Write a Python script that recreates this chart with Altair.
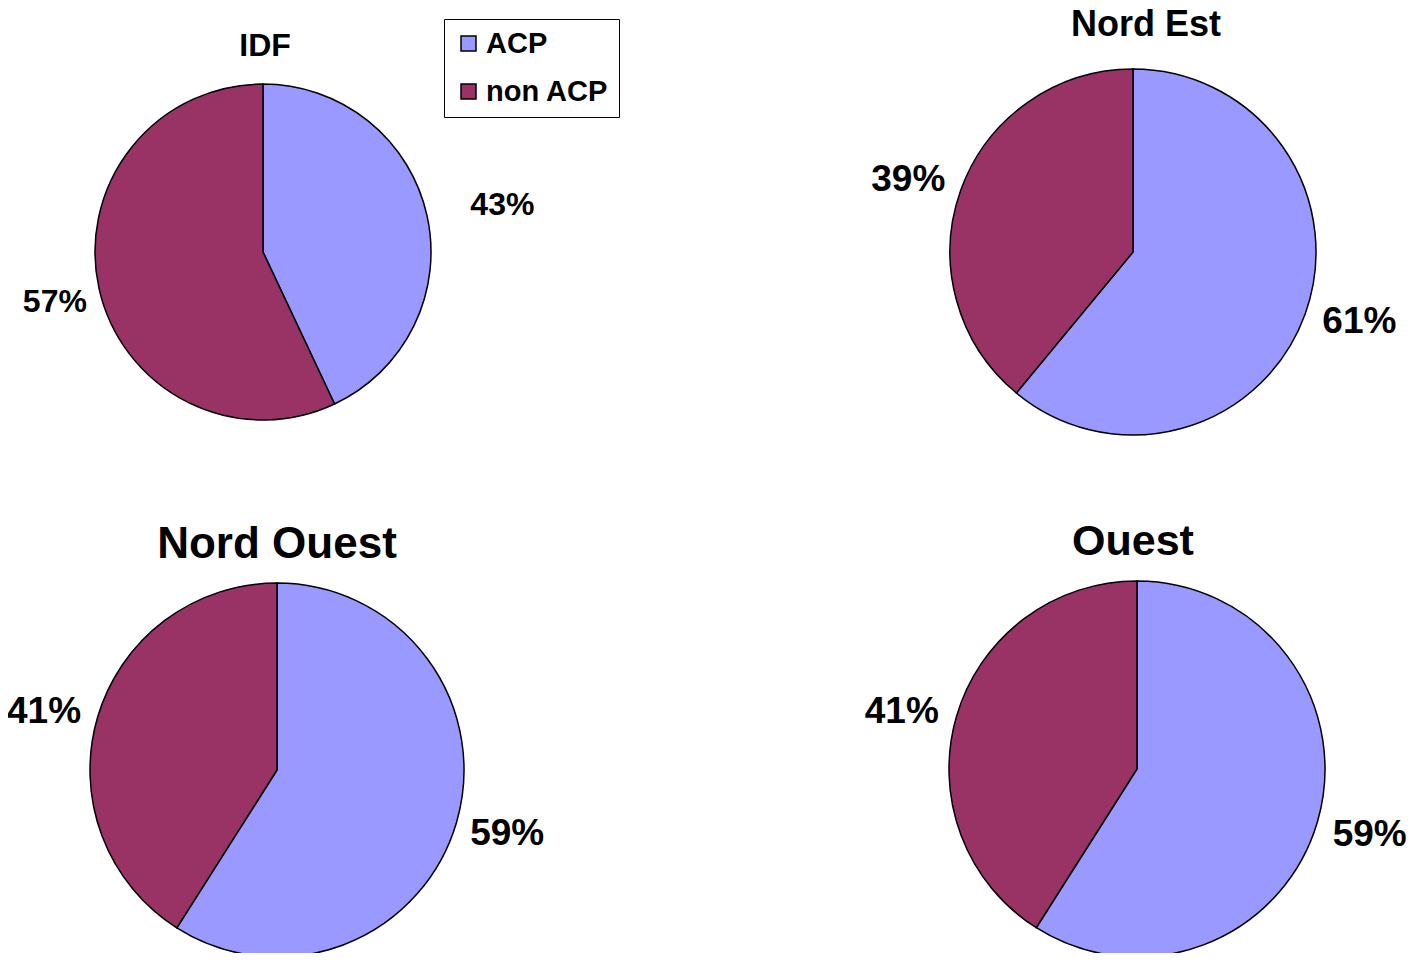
import altair as alt
import pandas as pd

regions = ["IDF", "Nord Est", "Nord Ouest", "Ouest"]
acp = [43, 61, 59, 59]
non_acp = [57, 39, 41, 41]
categories = ["ACP", "non ACP"]
colors = ["#9999FF", "#993366"]

rows = []
for reg, a, n in zip(regions, acp, non_acp):
    rows.append({"region": reg, "cat": "ACP", "value": a, "order": 0, "label": f"{a}%"})
    rows.append({"region": reg, "cat": "non ACP", "value": n, "order": 1, "label": f"{n}%"})
df = pd.DataFrame(rows)

# layout (positions / sizes only)
layout = {
    "IDF": dict(cx=255, cy=244, r=168, tx=257, ty=48, tsize=32, lsize=32,
                lr={"ACP": 244, "non ACP": 214}, to={"ACP": 0.025, "non ACP": -0.015}),
    "Nord Est": dict(cx=1125, cy=244, r=183, tx=1138, ty=28, tsize=36, lsize=37,
                     lr={"ACP": 237, "non ACP": 236}, to={"ACP": -0.045, "non ACP": -0.035}),
    "Nord Ouest": dict(cx=269, cy=762, r=187, tx=269, ty=550, tsize=44, lsize=37,
                       lr={"ACP": 239, "non ACP": 240}, to={"ACP": -0.01, "non ACP": -0.04}),
    "Ouest": dict(cx=1129, cy=761, r=188, tx=1125, ty=547, tsize=43, lsize=37,
                  lr={"ACP": 242, "non ACP": 242}, to={"ACP": -0.005, "non ACP": -0.045}),
}

FONT = "Liberation Sans"
theta_scale = alt.Scale(domain=[0, 100])
base = alt.Chart(df)
layers = []
first = True
for reg in regions:
    L = layout[reg]
    sub = base.transform_filter(alt.datum.region == reg)
    color_enc = alt.Color(
        "cat:N",
        scale=alt.Scale(domain=categories, range=colors),
        legend=alt.Legend(
            orient="none", legendX=436, legendY=11, title=None,
            symbolType="square", symbolSize=225, symbolStrokeColor="black",
            symbolStrokeWidth=1.5, symbolOpacity=1,
            labelFontSize=29, labelFont=FONT, labelFontWeight="bold",
            labelColor="black", labelOffset=3,
            strokeColor="black", fillColor="white", padding=10, rowPadding=18,
        ) if first else None,
    )
    first = False
    pie = sub.mark_arc(stroke="black", strokeWidth=1.5, radius=L["r"]).encode(
        theta=alt.Theta("value:Q", stack=True, scale=theta_scale),
        order=alt.Order("order:Q"),
        color=color_enc,
        x=alt.value(L["cx"]),
        y=alt.value(L["cy"]),
    )
    layers.append(pie)
    stacked = sub.transform_window(
        cum="sum(value)", sort=[alt.SortField("order")], frame=[None, 0]
    ).transform_calculate(mid="datum.cum - datum.value / 2")
    for cat in categories:
        lab = stacked.transform_filter(alt.datum.cat == cat).mark_text(
            font=FONT, fontWeight="bold", fontSize=L["lsize"], color="black",
            align="center", baseline="middle", radius=L["lr"][cat],
            thetaOffset=L["to"][cat],
        ).encode(
            theta=alt.Theta("mid:Q", scale=theta_scale),
            text="label:N",
            x=alt.value(L["cx"]),
            y=alt.value(L["cy"]),
        )
        layers.append(lab)
    title = sub.transform_filter(alt.datum.cat == "ACP").mark_text(
        font=FONT, fontWeight="bold", fontSize=L["tsize"], color="black",
        align="center", baseline="alphabetic",
    ).encode(
        text="region:N",
        x=alt.value(L["tx"]),
        y=alt.value(L["ty"]),
    )
    layers.append(title)

chart = alt.layer(*layers).properties(
    width=1399, height=945,
    autosize=alt.AutoSizeParams(type="none"),
    padding=0,
).configure_view(stroke=None).resolve_scale(theta="shared")

chart.save("out.html", embed_options={"renderer": "svg", "actions": False})
